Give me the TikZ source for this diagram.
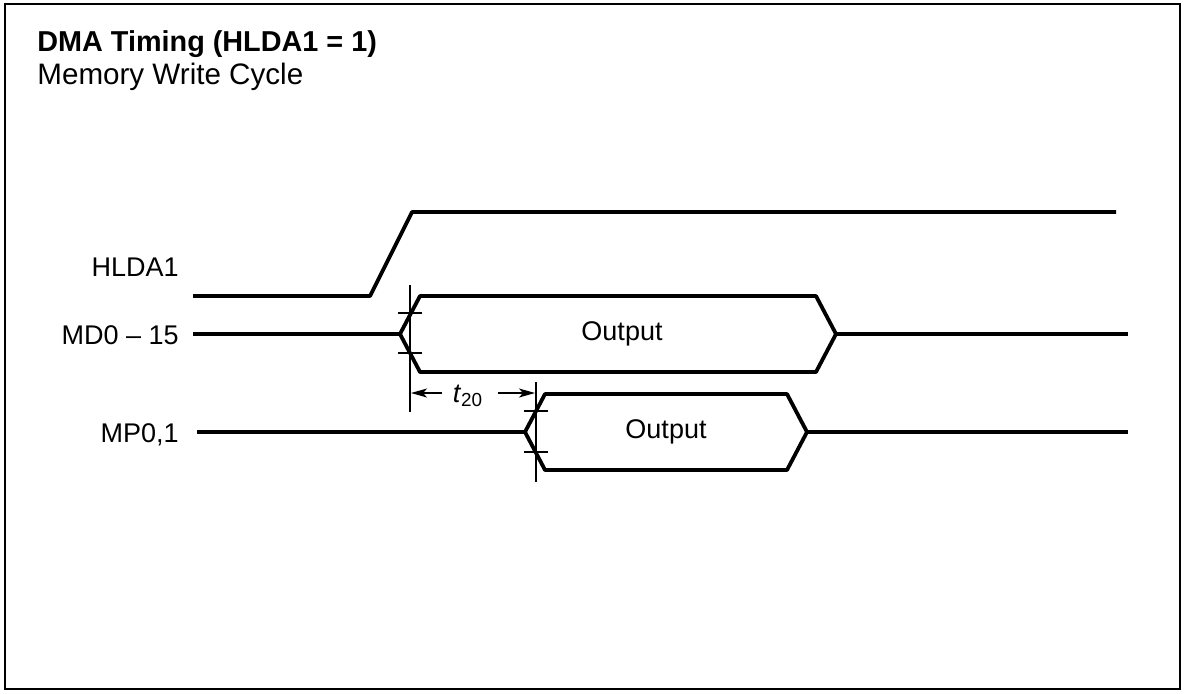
\documentclass[tikz,border=0pt]{standalone}
\usepackage{fontspec}
\setmainfont{Liberation Sans}
\usepackage{tikz}
\usetikzlibrary{arrows.meta}
\newcommand{\drawbus}[3]{\draw[sig] (#2,#1) -- ({#2+20},{#1-38}) -- ({#3-20},{#1-38}) -- (#3,#1) -- ({#3-20},{#1+38}) -- ({#2+20},{#1+38}) -- cycle;}
\newcommand{\drawtick}[2]{\draw[guide] ({#1-12},#2) -- ({#1+12},#2);}

\begin{document}
\begin{tikzpicture}[x=0.5pt,y=-0.5pt,
  sig/.style={line width=1.9pt,line join=round},
  guide/.style={line width=0.8pt},
  tarrow/.style={guide,-{Stealth[length=8pt,width=4.5pt,inset=2pt]}},
  lbl/.style={font=\fontsize{13.5}{16}\selectfont,inner sep=0pt}]
\useasboundingbox (0,0) rectangle (1184,693);
\draw[line width=1pt] (5,4) rectangle (1180,689);
\node[anchor=base west,inner sep=0pt,font=\fontsize{14.4}{16}\selectfont\bfseries] (title) at (37,51) {DMA Timing (HLDA1 = 1)};
\node[anchor=base west,lbl,font=\fontsize{14.8}{16}\selectfont] (subtitle) at (37,84) {Memory Write Cycle};
% signal names
\node[lbl,anchor=base east] (hlda) at (179,276) {HLDA1};
\node[lbl,anchor=base east] (md) at (179,344) {MD0 -- 15};
\node[lbl,anchor=base east] (mp) at (179,442) {MP0,1};
% waveforms
\draw[sig] (193,296) -- (370,296) -- (412,212) -- (1116,212);
\draw[sig] (193,334) -- (400,334);
\drawbus{334}{400}{836}
\draw[sig] (836,334) -- (1128,334);
\draw[sig] (197,432) -- (525,432);
\drawbus{432}{525}{807}
\draw[sig] (807,432) -- (1128,432);
\node[lbl] (out1) at (622,334) {Output};
\node[lbl] (out2) at (666,432) {Output};
% reference lines
\draw[guide] (410,285) -- (410,412);
\drawtick{410}{313}
\drawtick{410}{353}
\draw[guide] (536,382) -- (536,482);
\drawtick{536}{411}
\drawtick{536}{452}
\coordinate (g1) at (411,393);
\coordinate (g2) at (535,393);
\node[lbl] (t20) at (468,396) {\textit{t}\textsubscript{20}};
\draw[tarrow] ([xshift=-5pt]t20.west |- g1) -- (g1);
\draw[tarrow] ([xshift=7pt]t20.east |- g2) -- (g2);
\end{tikzpicture}
\end{document}
